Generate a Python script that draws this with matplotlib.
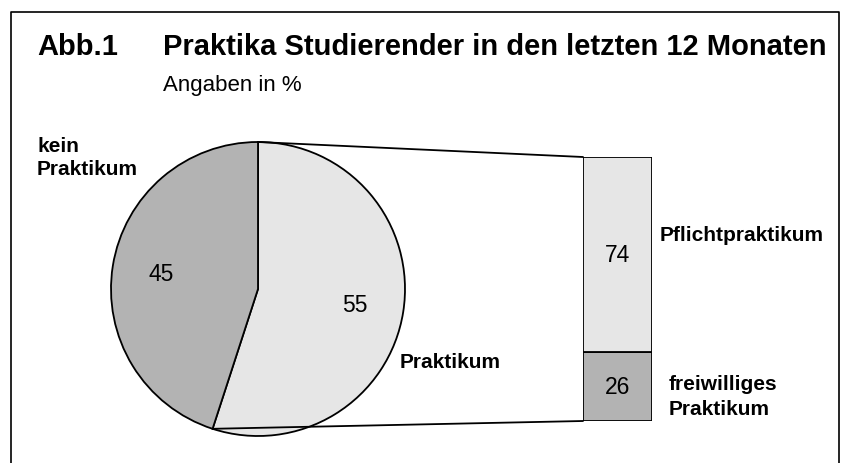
import matplotlib
matplotlib.use("Agg")
import matplotlib.pyplot as plt
from matplotlib.patches import ConnectionPatch
import numpy as np

plt.rcParams['font.family'] = ['Liberation Sans', 'DejaVu Sans']

# data
pie_labels = ['Praktikum', 'kein\nPraktikum']
pie_values = [55, 45]
bar_labels = ['freiwilliges\nPraktikum', 'Pflichtpraktikum']
bar_values = [26, 74]

light = '#e6e6e6'
dark = '#b3b3b3'

W, H = 841, 464
fig = plt.figure(figsize=(W / 100, H / 100), dpi=100)
ax = fig.add_axes([0, 0, 1, 1])


def Y(y):
    # image row -> data y
    return H - y


# pie
cx, cy, r = 258, Y(290), 147
wedges, _, autotexts = ax.pie(pie_values, colors=[light, dark], startangle=90,
                              counterclock=False, center=(cx, cy), radius=r,
                              autopct='%.0f', pctdistance=0.67, frame=True,
                              wedgeprops=dict(edgecolor='black', linewidth=1.3),
                              textprops=dict(fontsize=16.5))
ax.set_xlim(0, W)
ax.set_ylim(0, H)
ax.axis('off')

# frame
ax.plot([11, 11, 839, 839], [0, Y(13), Y(13), 0], color='black', lw=1.2)

# title
ax.text(37, Y(47), 'Abb.1', fontsize=21, fontweight='bold', va='center', ha='left')
ax.text(163, Y(47), 'Praktika Studierender in den letzten 12 Monaten',
        fontsize=21, fontweight='bold', va='center', ha='left')
ax.text(163, Y(85), 'Angaben in %', fontsize=16, va='center', ha='left')

ax.text(37, Y(158), pie_labels[1], fontsize=15, fontweight='bold',
        va='center', ha='left', linespacing=1.3)
ax.text(400, Y(363), pie_labels[0], fontsize=15, fontweight='bold',
        va='center', ha='left')

# bar of the "Praktikum" share
bx0, bx1, by0, by1 = 583, 652, 422, 158
axb = fig.add_axes([bx0 / W, Y(by0) / H, (bx1 - bx0) / W, (by0 - by1) / H])
bottom = 0
for v, c in zip(bar_values, [dark, light]):
    bars = axb.bar(0, v, width=1, bottom=bottom, color=c, edgecolor='black', linewidth=1.3)
    axb.bar_label(bars, labels=[str(v)], label_type='center', fontsize=16.5)
    bottom += v
axb.set_xlim(-0.5, 0.5)
axb.set_ylim(0, 100)
axb.axis('off')

ax.text(660, Y(236), bar_labels[1], fontsize=15, fontweight='bold', va='center', ha='left')
ax.text(669, Y(397), bar_labels[0], fontsize=15, fontweight='bold', va='center',
        ha='left', linespacing=1.4)

# connectors
t1 = np.deg2rad(90)
t2 = np.deg2rad(90 - 360 * pie_values[0] / sum(pie_values))
for t, yb in [(t1, 100), (t2, 0)]:
    con = ConnectionPatch(xyA=(cx + r * np.cos(t), cy + r * np.sin(t)), coordsA=ax.transData,
                          xyB=(-0.5, yb), coordsB=axb.transData, color='black', lw=1.3)
    fig.add_artist(con)

fig.savefig('out.png', dpi=100)
